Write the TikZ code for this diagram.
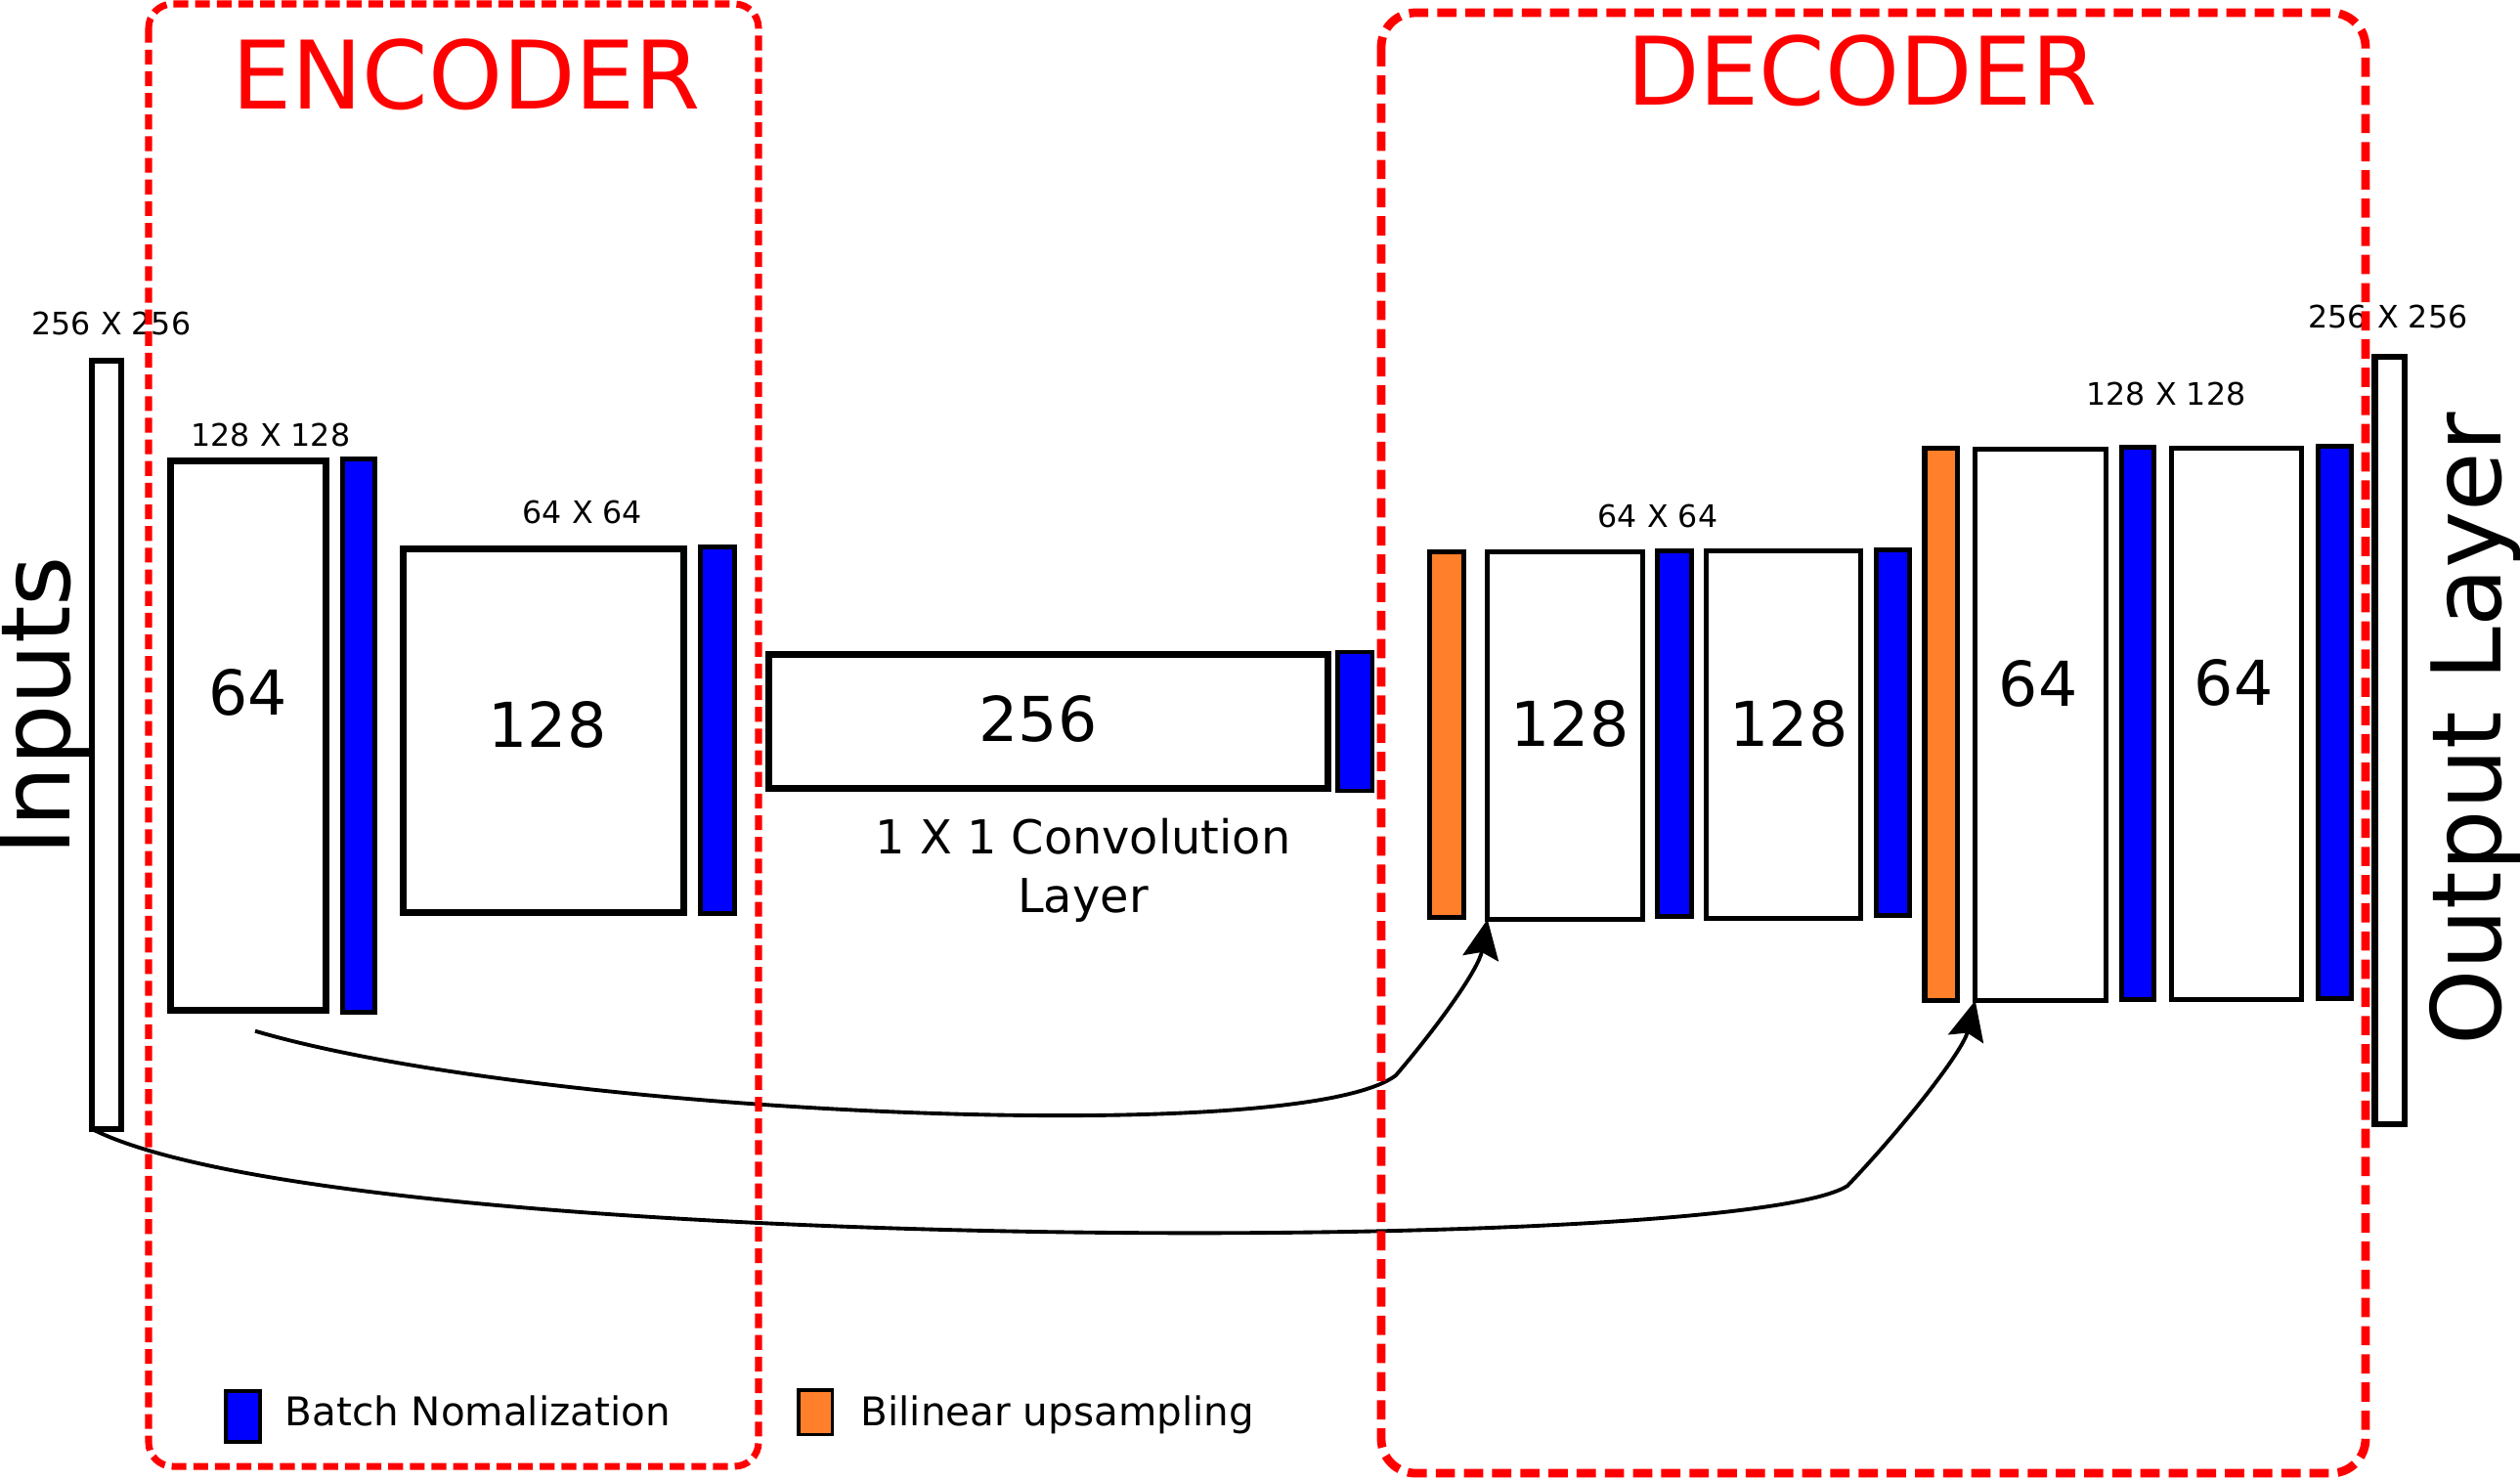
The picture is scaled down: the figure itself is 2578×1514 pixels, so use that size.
\documentclass[tikz,border=0pt]{standalone}
\usepackage{fontspec}
\setmainfont{DejaVu Sans}
\usetikzlibrary{arrows.meta,calc}
\definecolor{bnblue}{RGB}{0,0,255}
\definecolor{uporange}{RGB}{255,127,42}
\definecolor{dashred}{RGB}{255,0,0}
% #1 style, #2 name, #3 x1, #4 y1, #5 x2, #6 y2, #7 stroke width in px
\newcommand\pbox[7]{%
  \pgfmathsetmacro\pbW{(#5-#3-#7)/100}%
  \pgfmathsetmacro\pbH{(#6-#4-#7)/100}%
  \node[#1,line width=#7*0.2845pt,minimum width=\pbW cm,minimum height=\pbH cm] (#2) at ({(#3+#5)/2},{(#4+#6)/2}) {};}
\begin{document}
\begin{tikzpicture}[x=0.01cm,y=-0.01cm,
  layer/.style={draw=black,fill=white,inner sep=0pt,outer sep=0pt},
  bn/.style={layer,fill=bnblue},
  up/.style={layer,fill=uporange},
  num/.style={font=\fontsize{18}{22}\selectfont,inner sep=0pt},
  dimlbl/.style={font=\fontsize{9}{11}\selectfont,inner sep=0pt},
  title/.style={font=\fontsize{27.5}{33}\selectfont,text=dashred,inner sep=0pt},
  side/.style={font=\fontsize{28}{34}\selectfont,inner sep=0pt,rotate=90,anchor=base},
  legend/.style={font=\fontsize{11.5}{14}\selectfont,inner sep=0pt,anchor=base west},
  encgroup/.style={draw=dashred,line width=2pt,dash pattern=on 4.3pt off 2pt,rounded corners=7pt},
  decgroup/.style={draw=dashred,line width=2.5pt,dash pattern=on 5.6pt off 2.6pt,rounded corners=10pt},
  conn/.style={draw=black,line width=1.1pt,-{Stealth[length=11.5pt,width=10.5pt,inset=1.8pt]}}
]
\useasboundingbox (0,0) rectangle (2578,1514);
% layers
\pbox{layer}{inp}{91}{366}{127}{1158}{6.5}
\pbox{layer}{e1}{171}{468}{337}{1037}{7}
\pbox{bn}{b1}{348}{467}{386}{1038}{5}
\pbox{layer}{e2}{409}{558}{703}{937}{7}
\pbox{bn}{b2}{714}{557}{754}{937}{5}
\pbox{layer}{cv}{783}{666}{1362}{810}{7}
\pbox{bn}{b3}{1366}{665}{1406}{811}{4.5}
\pbox{up}{u1}{1460}{562}{1500}{941}{5}
\pbox{layer}{d1}{1519}{562}{1683}{943}{5.5}
\pbox{bn}{b4}{1693}{561}{1733}{940}{5}
\pbox{layer}{d2}{1743}{561}{1906}{942}{5.5}
\pbox{bn}{b5}{1917}{560}{1956}{939}{5}
\pbox{up}{u2}{1966}{456}{2005}{1026}{5.5}
\pbox{layer}{d3}{2018}{457}{2157}{1026}{5.5}
\pbox{bn}{b6}{2168}{455}{2206}{1025}{5}
\pbox{layer}{d4}{2219}{456}{2357}{1025}{5.5}
\pbox{bn}{b7}{2369}{454}{2408}{1024}{5}
\pbox{layer}{outp}{2426}{362}{2463}{1153}{6.5}
% numbers
\node[num] (n1) at (254,708) {64};
\node[num] (n2) at (560,741) {128};
\node[num] (n3) at (1062,735) {256};
\node[num] (n4) at (1606,740) {128};
\node[num] (n5) at (1830,740) {128};
\node[num] (n6) at (2085,699) {64};
\node[num] (n7) at (2285,698) {64};
% dimension labels
\node[dimlbl] (s1) at (114,331) {256 X 256};
\node[dimlbl] (s2) at (277,445) {128 X 128};
\node[dimlbl] (s3) at (596,524) {64 X 64};
\node[dimlbl] (s4) at (1696,528) {64 X 64};
\node[dimlbl] (s5) at (2216,403) {128 X 128};
\node[dimlbl] (s6) at (2443,324) {256 X 256};
\node[font=\fontsize{13.6}{17}\selectfont,align=center,inner sep=0pt] (convlbl) at (1108,890) {1 X 1 Convolution\\Layer};
% side labels
\node[side] (inlbl) at (71,722) {Inputs};
\node[side] (outlbl) at (2558,746) {Output Layer};
% titles
\node[title] (enc) at (477,76.5) {ENCODER};
\node[title] (dec) at (1905,72) {DECODER};
% legend
\pbox{bn}{legbn}{229}{1421}{268}{1477}{4}
\node[legend] (legbntxt) at (291,1458) {Batch Nomalization};
\pbox{up}{legup}{815}{1420}{853}{1469}{3.5}
\node[legend] (leguptxt) at (880,1458) {Bilinear upsampling};
% skip connections
\draw[conn] ($(e1.south)+(7,21)$) .. controls (550,1140) and (1330,1175) .. (1428,1100) .. controls (1475,1045) and (1513,990) .. (d1.south west);
\draw[conn] (inp.south west) .. controls (350,1285) and (1780,1285) .. (1890,1213) .. controls (1950,1150) and (2008,1075) .. (d3.south west);
% groups
\draw[encgroup] (152,4) rectangle (776,1500);
\draw[decgroup] (1413,13) rectangle (2420,1507);
\end{tikzpicture}
\end{document}
